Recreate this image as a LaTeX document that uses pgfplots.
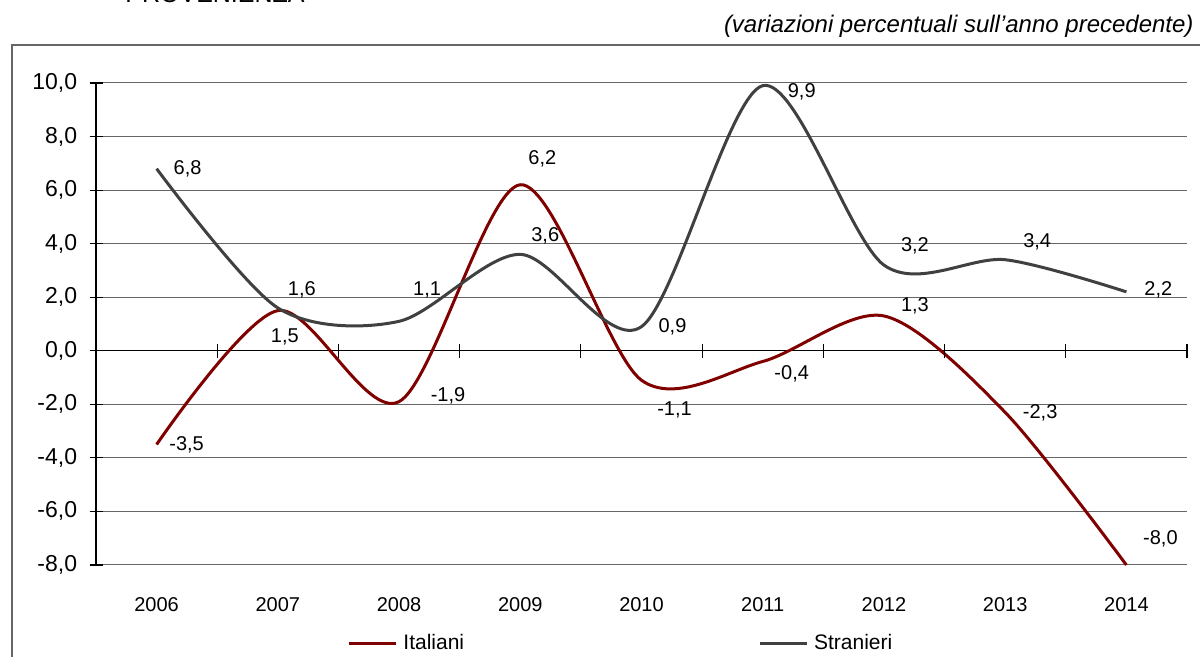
\documentclass[border=0pt]{standalone}
\usepackage{pgfplots}
\pgfplotsset{compat=1.18}
\usepackage{pgfplotstable}
\usepackage{fontspec}
\setmainfont{Liberation Sans}
\definecolor{ita}{HTML}{800000}
\definecolor{str}{HTML}{404040}

\pgfplotstableread{
x y lab dx dy
0 -3.5 -3,5 15 0
1 1.5 1,5 3.5 -13.2
2 -1.9 -1,9 24.5 2.9
3 6.2 6,2 11 12.9
4 -1.1 -1,1 16.5 -14.9
5 -0.4 -0,4 14.5 -6.3
6 1.3 1,3 15.5 5
7 -2.3 -2,3 17.5 0
8 -8.0 -8,0 17 13
}\ita

\pgfplotstableread{
x y lab dx dy
0 6.8 6,8 15.5 0
1 1.6 1,6 12 9
2 1.1 1,1 14 15.6
3 3.6 3,6 12.5 9.2
4 0.9 0,9 15.5 0
5 9.9 9,9 19.5 -3
6 3.2 3,2 15.5 9.5
7 3.4 3,4 16 8.9
8 2.2 2,2 16 1
}\str

\begin{document}
\begin{tikzpicture}
\useasboundingbox (0,0) rectangle (600pt,328.5pt);
\node[anchor=base west, inner sep=0pt, font=\fontsize{12.5}{15}\selectfont] at (62.5pt,327pt) {PROVENIENZA};
\node[anchor=base east, inner sep=0pt, font=\fontsize{12}{14}\selectfont\itshape] at (597pt,312pt) {(variazioni percentuali sull’anno precedente)};
\draw[black!60, line width=1pt] (6pt,-5pt) -- (6pt,306pt) -- (610pt,306pt);
\begin{axis}[
  at={(48pt,46pt)}, anchor=south west,
  scale only axis, width=545.5pt, height=241pt,
  xmin=-0.5, xmax=8.5, ymin=-8, ymax=10,
  axis x line=bottom, axis y line=left, axis line style={-},
  x axis line style={draw=none},
  y axis line style={black, line width=0.6pt},
  xtick={0,...,8}, xticklabels={2006,2007,2008,2009,2010,2011,2012,2013,2014},
  xtick style={draw=none},
  ytick={-8,-6,...,10},
  yticklabels={{-8,0},{-6,0},{-4,0},{-2,0},{0,0},{2,0},{4,0},{6,0},{8,0},{10,0}},
  ymajorgrids, grid style={black!60, line width=0.5pt},
  extra y ticks={0}, extra y tick labels={},
  extra y tick style={grid style={black, line width=0.6pt}},
  tick align=center, major tick length=6.5pt,
  ytick style={black, line width=0.6pt},
  xticklabel style={font=\fontsize{10}{12}\selectfont, anchor=center, inner sep=0pt, yshift=-16.5pt},
  yticklabel style={font=\fontsize{11.5}{13}\selectfont, anchor=east, inner sep=0pt, xshift=-6pt},
  clip=false,
  legend columns=2,
  legend style={draw=none, fill=none, at={(axis description cs:0.2301,-0.163)}, anchor=west,
    inner sep=0pt, font=\fontsize{10.5}{12}\selectfont, cells={anchor=west}, nodes={inner sep=0pt},
    /tikz/every odd column/.append style={column sep=3pt},
    /tikz/every even column/.append style={column sep=147pt}},
  legend image code/.code={\draw[#1] (0pt,0pt) -- (23.5pt,0pt);},
]
\addplot[ita, line width=1.5pt, smooth, tension=0.5, mark=none] table[x=x,y=y]{\ita};
\addlegendentry{Italiani}
\addplot[str, line width=1.5pt, smooth, tension=0.5, mark=none] table[x=x,y=y]{\str};
\addlegendentry{Stranieri}
\addplot[only marks, mark=|, mark size=3.5pt, black, mark options={line width=0.6pt}, forget plot] coordinates {(0.5,0) (1.5,0) (2.5,0) (3.5,0) (4.5,0) (5.5,0) (6.5,0) (7.5,0) (8.5,0)};
\addplot[draw=none, mark=none, forget plot, nodes near coords, point meta=explicit symbolic,
  visualization depends on={\thisrow{dx}\as\myDX},
  visualization depends on={\thisrow{dy}\as\myDY},
  every node near coord/.append style={anchor=center, xshift=\myDX pt, yshift=\myDY pt, font=\fontsize{10}{12}\selectfont, text=black}]
  table[x=x,y=y,meta=lab]{\ita};
\addplot[draw=none, mark=none, forget plot, nodes near coords, point meta=explicit symbolic,
  visualization depends on={\thisrow{dx}\as\myDX},
  visualization depends on={\thisrow{dy}\as\myDY},
  every node near coord/.append style={anchor=center, xshift=\myDX pt, yshift=\myDY pt, font=\fontsize{10}{12}\selectfont, text=black}]
  table[x=x,y=y,meta=lab]{\str};
\end{axis}
\end{tikzpicture}
\end{document}
